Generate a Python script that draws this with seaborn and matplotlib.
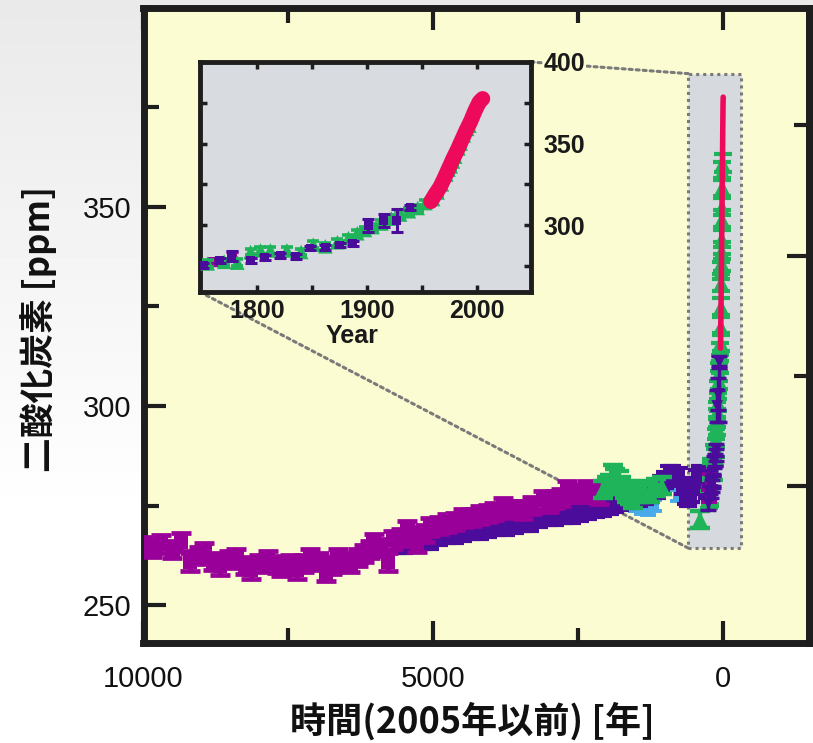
import numpy as np
import matplotlib
matplotlib.use("Agg")
import matplotlib.pyplot as plt
import seaborn as sns
from matplotlib.patches import Rectangle, ConnectionPatch
from matplotlib.ticker import FixedLocator

# ---------------- data ----------------
# long ice-core records: years before 2005, CO2 ppm
magenta_bp = [10000, 9850, 9700, 9500, 9350, 9200, 9050, 8950, 8800, 8680, 8520, 8400, 8250, 8150,
              8000, 7850, 7700, 7620, 7480, 7350, 7230, 7120, 6980, 6850, 6750, 6650, 6530, 6430,
              6300, 6200, 6100, 6030, 5900, 5780, 5690, 5550, 5450, 5350, 5280, 5150, 5050, 4900,
              4760, 4620, 4480, 4330, 4190, 4050, 3950, 3790, 3650, 3450, 3300, 3100, 3000, 2900,
              2800, 2690, 2560, 2450, 2350, 2250, 2150]
magenta_ppm = [265.0, 264.2, 265.3, 264.0, 265.8, 260.8, 262.5, 263.5, 261.0, 259.8, 261.5, 262.0, 260.0, 258.8,
               260.5, 261.3, 260.2, 259.6, 260.5, 258.8, 260.5, 262.0, 261.0, 258.2, 260.0, 261.8, 261.0, 260.5,
               262.0, 263.0, 264.0, 265.6, 264.5, 260.8, 266.3, 267.0, 268.8, 267.5, 265.5, 268.0, 269.6, 270.0,
               270.6, 271.0, 271.9, 272.0, 272.6, 273.0, 273.5, 274.6, 274.0, 273.9, 275.0, 276.4, 275.5, 276.5,
               277.0, 278.9, 278.0, 278.0, 279.0, 278.5, 277.5]

indigo_bp = [5620, 5500, 5350, 5200, 5050, 4900, 4760, 4620, 4480, 4330, 4190, 4050, 3900, 3750,
             3600, 3450, 3330, 3180, 3030, 2900, 2750, 2600, 2470, 2330, 2200, 2080, 1950, 1860,
             1780, 1660, 1550, 1450, 1350, 1250, 1150, 1070, 1000, 940, 880, 820, 760, 700,
             650, 600, 560, 500, 450, 400, 350, 300, 280]
indigo_ppm = [265.0, 265.0, 265.5, 266.0, 266.0, 267.0, 267.5, 267.5, 268.0, 268.5, 268.5, 269.0, 269.5, 269.5,
              270.0, 270.5, 270.5, 271.5, 272.0, 272.0, 272.5, 272.5, 273.0, 273.5, 274.0, 274.5, 275.0, 275.5,
              276.0, 276.5, 277.0, 277.0, 277.5, 278.0, 279.0, 280.5, 281.5, 283.0, 283.0, 282.0, 282.5, 280.0,
              277.5, 277.0, 278.0, 280.0, 282.0, 283.0, 281.0, 280.0, 279.0]

green_bp = [2080, 2000, 1960, 1900, 1860, 1800, 1760, 1700, 1660, 1600, 1560, 1460, 1360, 1260,
            1160, 1060, 400]
green_ppm = [279.0, 280.0, 280.5, 283.0, 282.0, 281.5, 280.0, 279.0, 278.0, 277.5, 276.5, 278.0, 279.0, 278.0,
             279.5, 280.0, 271.5]

lightblue_bp = [1500, 1400, 1300, 1200, 780]
lightblue_ppm = [275.0, 274.2, 274.0, 275.0, 277.5]

# modern records: calendar year AD, CO2 ppm
modern_indigo_year = [1751, 1766, 1777, 1794, 1807, 1821, 1835, 1848, 1862, 1875, 1887, 1901, 1915, 1927, 1939]
modern_indigo_ppm = [275.5, 278.5, 281.0, 278.5, 280.0, 281.5, 281.0, 286.0, 286.5, 287.8, 289.0, 300.0, 303.0, 303.0, 311.0]
modern_indigo_err = [1.5, 1.5, 3.0, 1.5, 1.5, 1.5, 1.5, 1.5, 1.5, 1.5, 1.5, 4.0, 4.0, 7.0, 1.5]

modern_green_year = [1755, 1770, 1782, 1794, 1803, 1812, 1827, 1840, 1851, 1862, 1873, 1883, 1891, 1898,
                     1905, 1913, 1922, 1930, 1938, 1946, 1953, 1960, 1964, 1968, 1972, 1974, 1976, 1978,
                     1980, 1983, 1985, 1988, 1991, 1993]
modern_green_ppm = [276.5, 277.5, 277.0, 283.5, 284.5, 284.5, 284.5, 283.5, 288.0, 287.0, 289.5, 292.0, 295.0, 297.0,
                    298.8, 301.0, 304.0, 306.5, 308.5, 310.5, 313.5, 316.0, 320.0, 325.0, 331.0, 334.0, 336.0, 339.0,
                    342.0, 347.0, 350.0, 355.0, 359.0, 361.0]

modern_magenta_year = [1760, 1777]
modern_magenta_ppm = [277.5, 281.5]

red_year = [1958, 1962, 1966, 1970, 1974, 1978, 1982, 1986, 1990, 1994, 1998, 2002, 2005]
red_ppm = [314.5, 319.0, 323.0, 328.5, 334.5, 340.5, 346.0, 352.0, 358.0, 363.5, 370.0, 375.5, 377.5]

main_xticks = [10000, 5000, 0]
main_xtick_labels = ["10000", "5000", "0"]
main_xminor = [7500, 2500]
main_yticks = [250, 300, 350]
main_ytick_labels = ["250", "300", "350"]
main_yminor = [275, 325, 375]
forcing_major = [0.0, 1.0]          # right axis (radiative forcing), unlabeled
forcing_minor = [0.5, 1.5]
inset_xticks = [1800, 1900, 2000]
inset_xtick_labels = ["1800", "1900", "2000"]
inset_xminor = [1850, 1950]
inset_yticks = [300, 350, 400]
inset_ytick_labels = ["300", "350", "400"]
inset_yminor = [275, 325, 375]

REF_YEAR = 2005
C0 = 280.0
zoom_box = dict(bp_old=600, bp_new=-300, ppm_low=264.3, ppm_high=383.4)

MAGENTA = "#990099"
INDIGO = "#4B0C9C"
GREEN = "#20B45A"
LIGHTBLUE = "#48AAE8"
RED = "#EE0A5A"
PLOT_BG = "#FCFCD2"
INSET_BG = "#D8DCE0"
FRAME = "#1E1E1E"
DOT = "#7A7A7A"

sns.set_theme(style="ticks")
plt.rcParams["font.family"] = ["Liberation Sans", "DejaVu Sans"]
CJK = ["Noto Sans CJK JP", "DejaVu Sans"]

W, H = 813, 743
fig = plt.figure(figsize=(W / 100, H / 100), dpi=100)

# soft grey-to-white backdrop
bg = fig.add_axes([0, 0, 1, 1], zorder=-10)
rows = np.arange(H)
grad = np.clip(0.915 + 0.085 * rows / 520.0, 0, 1)[:, None]
bg.imshow(grad, cmap="gray", vmin=0, vmax=1, aspect="auto", extent=[0, 1, 0, 1], origin="upper")
bg.axis("off")


def px_axes(left, top, right, bottom):
    return fig.add_axes([left / W, 1 - bottom / H, (right - left) / W, (bottom - top) / H])


def draw_series(axis, x, y, color, marker, msize, yerr, capsize, lw, z):
    axis.errorbar(x, y, yerr=yerr, fmt="none", ecolor=color, elinewidth=lw,
                  capsize=capsize, capthick=lw, zorder=z)
    sns.scatterplot(x=x, y=y, ax=axis, color=color, marker=marker, s=msize,
                    edgecolor="none", linewidth=0, zorder=z + 0.1, legend=False)


# ---------------- main axes ----------------
ax = px_axes(143.5, 7.5, 809, 643)
ax.set_facecolor(PLOT_BG)

modern_indigo_bp = [REF_YEAR - y for y in modern_indigo_year]
modern_green_bp = [REF_YEAR - y for y in modern_green_year]
modern_magenta_bp = [REF_YEAR - y for y in modern_magenta_year]
red_bp = [REF_YEAR - y for y in red_year]

draw_series(ax, indigo_bp, indigo_ppm, INDIGO, "s", 80, 2.0, 6.5, 3.0, 2.6)
draw_series(ax, magenta_bp, magenta_ppm, MAGENTA, "s", 110, 2.2, 7.2, 3.4, 3)
draw_series(ax, lightblue_bp, lightblue_ppm, LIGHTBLUE, "s", 60, 1.3, 5.5, 2.8, 2.4)
draw_series(ax, green_bp, green_ppm, GREEN, "^", 130, 2.2, 7.0, 3.2, 3.6)
draw_series(ax, modern_green_bp, modern_green_ppm, GREEN, "^", 110, 2.2, 6.5, 3.0, 3.8)
draw_series(ax, modern_magenta_bp, modern_magenta_ppm, MAGENTA, "s", 60, 1.5, 5.5, 2.8, 3.9)
draw_series(ax, modern_indigo_bp, modern_indigo_ppm, INDIGO, "v", 70, modern_indigo_err, 5.5, 2.5, 4.0)
sns.lineplot(x=red_bp, y=red_ppm, ax=ax, color=RED, linewidth=4.0, zorder=5,
             estimator=None, sort=False, legend=False)

ax.add_patch(Rectangle((zoom_box["bp_old"], zoom_box["ppm_low"]),
                       zoom_box["bp_new"] - zoom_box["bp_old"],
                       zoom_box["ppm_high"] - zoom_box["ppm_low"],
                       facecolor="#D6DADE", edgecolor=DOT, linestyle=(0, (1, 1.3)),
                       linewidth=2.2, zorder=1))

ax.set_xlim(10000, -1480)
ax.set_ylim(240.5, 400)
ax.set_xlabel("")
ax.set_ylabel("")
for s in ax.spines.values():
    s.set_linewidth(5)
    s.set_color(FRAME)

ax.set_xticks(main_xticks, main_xtick_labels, fontsize=21, color="#111111")
ax.xaxis.set_minor_locator(FixedLocator(main_xminor))
ax.set_yticks(main_yticks, main_ytick_labels, fontsize=21, color="#111111")
ax.yaxis.set_minor_locator(FixedLocator(main_yminor))
ax.tick_params(axis="x", which="major", direction="in", length=16, width=3, color=FRAME,
               top=True, bottom=True, pad=16)
ax.tick_params(axis="x", which="minor", direction="in", length=10.5, width=3, color=FRAME,
               top=True, bottom=True)
ax.tick_params(axis="y", which="major", direction="in", length=16, width=3, color=FRAME,
               left=True, right=False, pad=9)
ax.tick_params(axis="y", which="minor", direction="in", length=10.5, width=3, color=FRAME,
               left=True, right=False)

sec = ax.secondary_yaxis("right", functions=(lambda c: 5.35 * np.log(c / C0),
                                             lambda f: C0 * np.exp(f / 5.35)))
sec.yaxis.set_major_locator(FixedLocator(forcing_major))
sec.yaxis.set_minor_locator(FixedLocator(forcing_minor))
sec.tick_params(which="major", direction="in", length=16, width=3, color=FRAME, labelright=False)
sec.tick_params(which="minor", direction="in", length=10.5, width=3, color=FRAME)
sec.spines["right"].set_linewidth(5)
sec.spines["right"].set_color(FRAME)

# ---------------- inset ----------------
axins = px_axes(200, 62, 531, 292)
axins.set_facecolor(INSET_BG)
draw_series(axins, modern_magenta_year, modern_magenta_ppm, MAGENTA, "s", 55, 2.0, 4.5, 2.4, 3)
draw_series(axins, modern_green_year, modern_green_ppm, GREEN, "^", 110, 2.0, 4.5, 2.6, 3.5)
draw_series(axins, modern_indigo_year, modern_indigo_ppm, INDIGO, "s", 40, modern_indigo_err, 4.5, 2.2, 4)
sns.lineplot(x=red_year, y=red_ppm, ax=axins, color=RED, linewidth=11, zorder=5,
             estimator=None, sort=False, legend=False)
axins.set_xlim(1748, 2049)
axins.set_ylim(259, 400)
axins.set_ylabel("")
for s in axins.spines.values():
    s.set_linewidth(3.5)
    s.set_color(FRAME)
axins.set_xticks(inset_xticks, inset_xtick_labels, fontsize=18, fontweight="bold", color="#1A1A1A")
axins.xaxis.set_minor_locator(FixedLocator(inset_xminor))
axins.set_yticks(inset_yticks, inset_ytick_labels, fontsize=18, fontweight="bold", color="#1A1A1A")
axins.yaxis.set_minor_locator(FixedLocator(inset_yminor))
axins.tick_params(which="both", direction="in", length=5, width=2.5, color=FRAME,
                  top=True, bottom=True, left=True, right=True,
                  labelleft=False, labelright=True)
axins.tick_params(axis="x", pad=5)
axins.tick_params(axis="y", pad=9)
axins.set_xlabel("Year", fontsize=18, fontweight="bold", color="#1A1A1A")
axins.xaxis.set_label_coords((352 - 200) / 331, (292 - 336) / 230)
axins.xaxis.label.set_va("center")
for lbl in axins.get_yticklabels():
    lbl.set_bbox(dict(facecolor=PLOT_BG, edgecolor="none", pad=0.5))

# dotted connectors
for xyA, xyB in [((1, 1), (zoom_box["bp_old"], zoom_box["ppm_high"])),
                 ((0, 0), (zoom_box["bp_old"], zoom_box["ppm_low"]))]:
    con = ConnectionPatch(xyA=xyA, coordsA=axins.transAxes, xyB=xyB, coordsB=ax.transData,
                          color=DOT, linestyle=(0, (1, 1.3)), linewidth=2.2, zorder=2)
    ax.add_artist(con)

# axis titles
fig.text(39 / W, 1 - 329 / H, "二酸化炭素 [ppm]", rotation=90, ha="center", va="center",
         fontsize=25, fontweight="bold", family=CJK, color="#111111")
fig.text(472 / W, 1 - 721 / H, "時間(2005年以前) [年]", ha="center", va="center",
         fontsize=26, fontweight="bold", family=CJK, color="#111111")

fig.savefig("out.png", dpi=100)
